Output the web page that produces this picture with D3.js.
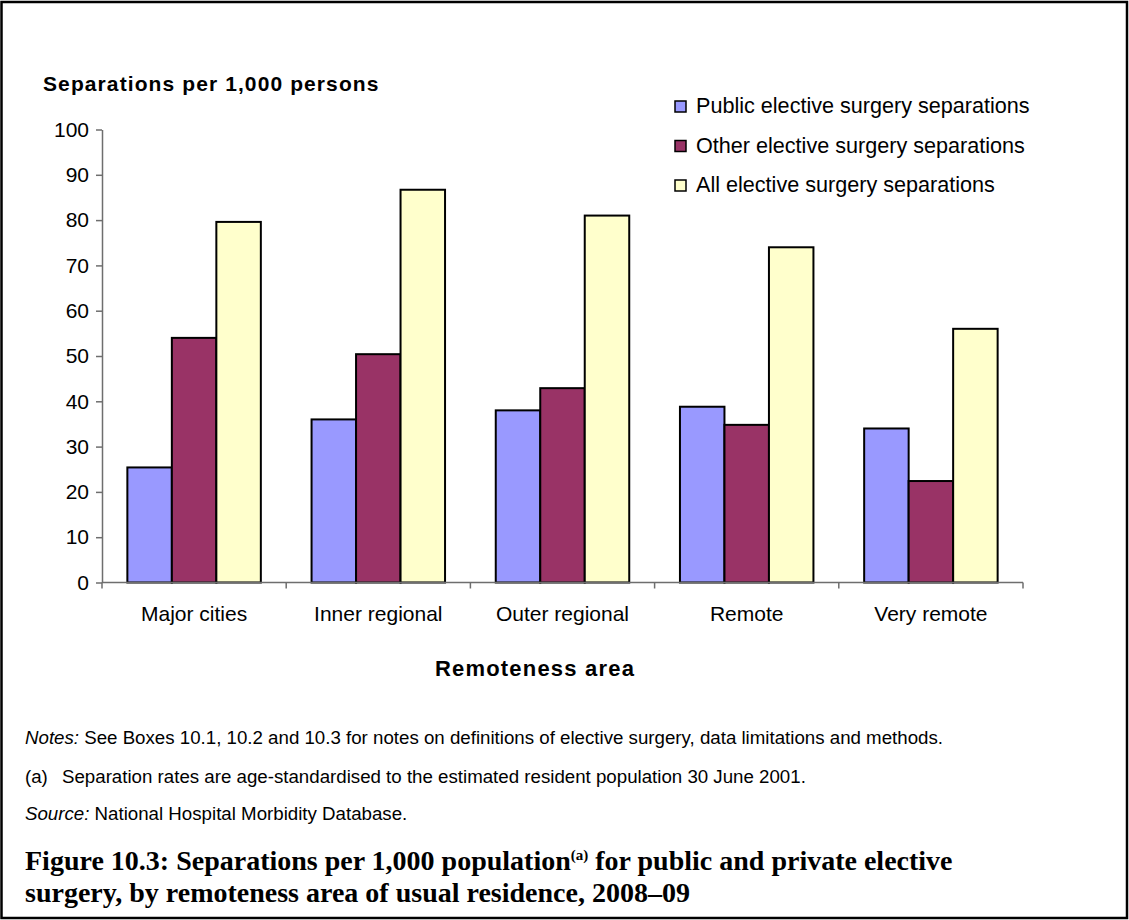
<!DOCTYPE html>
<html>
<head>
<meta charset="utf-8">
<script src="https://cdn.jsdelivr.net/npm/d3@7"></script>
<style>
  html, body { margin: 0; padding: 0; background: #fff; }
  svg { display: block; }
  .sans { font-family: "Liberation Sans", Arial, sans-serif; fill: #000; }
  .serif { font-family: "Liberation Serif", "Times New Roman", serif; fill: #000; }
</style>
</head>
<body>
<svg id="chart" width="1129" height="920"></svg>
<script>
// Remoteness areas along the x axis
const categories = ["Major cities", "Inner regional", "Outer regional", "Remote", "Very remote"];

// Separations per 1,000 persons, by series
const seriesNames = [
  "Public elective surgery separations",
  "Other elective surgery separations",
  "All elective surgery separations"
];
const publicValues = [25.4, 36.0, 38.0, 38.8, 34.0];
const otherValues  = [54.0, 50.4, 42.9, 34.8, 22.4];
const allValues    = [79.6, 86.7, 81.0, 74.0, 56.0];

const yTicks = [0, 10, 20, 30, 40, 50, 60, 70, 80, 90, 100];
const colors = ["#9999FF", "#993366", "#FFFFCC"];

const seriesValues = [publicValues, otherValues, allValues];
const rows = categories.map((c, i) => ({
  category: c,
  values: seriesValues.map((vals, s) => ({ series: seriesNames[s], value: vals[i], s }))
}));

const svg = d3.select("#chart");

// Page frame
svg.append("rect")
  .attr("x", 1.5).attr("y", 2).attr("width", 1125.5).attr("height", 916)
  .attr("fill", "none").attr("stroke", "#000").attr("stroke-width", 2.5);

const plot = { left: 102, right: 1023, top: 129.5, bottom: 582.5 };

const x0 = d3.scaleBand().domain(categories).range([plot.left, plot.right]).paddingInner(0).paddingOuter(0);
const x1 = d3.scaleBand().domain(seriesNames).range([0, x0.bandwidth()]).paddingInner(0).paddingOuter(0.57);
const y = d3.scaleLinear().domain([0, 100]).range([plot.bottom, plot.top]);

// Bars
const groups = svg.append("g").selectAll("g")
  .data(rows).join("g")
  .attr("transform", d => `translate(${x0(d.category)},0)`);

groups.selectAll("rect")
  .data(d => d.values).join("rect")
  .attr("x", d => x1(d.series))
  .attr("y", d => y(d.value))
  .attr("width", x1.bandwidth())
  .attr("height", d => y(0) - y(d.value))
  .attr("fill", d => colors[d.s])
  .attr("stroke", "#000")
  .attr("stroke-width", 2);

// Y axis
const yAxis = svg.append("g")
  .attr("transform", `translate(${plot.left},0)`)
  .call(d3.axisLeft(y).tickValues(yTicks).tickSize(6).tickPadding(7).tickSizeOuter(0));
yAxis.select(".domain").attr("stroke", "#6e6e6e").attr("stroke-width", 1.5);
yAxis.selectAll(".tick line").attr("stroke", "#6e6e6e").attr("stroke-width", 1.5);
yAxis.selectAll(".tick text")
  .attr("class", "sans").attr("font-size", "21px").attr("fill", "#000");

// X axis with group separators
const xAxis = svg.append("g")
  .attr("transform", `translate(0,${plot.bottom})`);
xAxis.append("line")
  .attr("x1", plot.left).attr("x2", plot.right)
  .attr("stroke", "#6e6e6e").attr("stroke-width", 1.5);
const sepPositions = categories.map(c => x0(c)).concat([plot.right]);
xAxis.selectAll("line.sep").data(sepPositions).join("line")
  .attr("class", "sep")
  .attr("x1", d => d).attr("x2", d => d)
  .attr("y1", 0).attr("y2", 6)
  .attr("stroke", "#6e6e6e").attr("stroke-width", 1.5);
xAxis.selectAll("text").data(categories).join("text")
  .attr("class", "sans")
  .attr("x", d => x0(d) + x0.bandwidth() / 2)
  .attr("y", 38)
  .attr("text-anchor", "middle")
  .attr("font-size", "21px")
  .text(d => d);

// Axis titles
svg.append("text").attr("class", "sans")
  .attr("x", 43).attr("y", 91)
  .attr("font-size", "21px").attr("font-weight", "bold")
  .attr("letter-spacing", "1.1px")
  .text("Separations per 1,000 persons");

svg.append("text").attr("class", "sans")
  .attr("x", 535).attr("y", 676)
  .attr("text-anchor", "middle")
  .attr("font-size", "22px").attr("font-weight", "bold")
  .attr("letter-spacing", "1.2px")
  .text("Remoteness area");

// Legend
const legend = svg.append("g").attr("transform", "translate(675,0)");
const legendBaselines = [113, 152.5, 192];
seriesNames.forEach((name, i) => {
  legend.append("rect")
    .attr("x", 0).attr("y", legendBaselines[i] - 12)
    .attr("width", 11).attr("height", 11)
    .attr("fill", colors[i]).attr("stroke", "#000").attr("stroke-width", 1.5);
  legend.append("text").attr("class", "sans")
    .attr("x", 21).attr("y", legendBaselines[i])
    .attr("font-size", "21.6px")
    .text(name);
});

// Notes and source
const notes = svg.append("g");
const n1 = notes.append("text").attr("class", "sans").attr("font-size", "18.7px").attr("x", 25).attr("y", 744);
n1.append("tspan").attr("font-style", "italic").text("Notes:");
n1.append("tspan").text(" See Boxes 10.1, 10.2 and 10.3 for notes on definitions of elective surgery, data limitations and methods.");

notes.append("text").attr("class", "sans").attr("font-size", "18.7px").attr("x", 25).attr("y", 783).text("(a)");
notes.append("text").attr("class", "sans").attr("font-size", "18.7px").attr("x", 62).attr("y", 783)
  .text("Separation rates are age-standardised to the estimated resident population 30 June 2001.");

const n3 = notes.append("text").attr("class", "sans").attr("font-size", "18.7px").attr("x", 25).attr("y", 820);
n3.append("tspan").attr("font-style", "italic").text("Source:");
n3.append("tspan").text(" National Hospital Morbidity Database.");

// Figure caption
const cap = svg.append("g");
const c1 = cap.append("text").attr("class", "serif")
  .attr("x", 25).attr("y", 870)
  .attr("font-size", "28px").attr("font-weight", "bold");
c1.append("tspan").text("Figure 10.3: Separations per 1,000 population");
c1.append("tspan").attr("font-size", "15px").attr("dy", -10).text("(a)");
c1.append("tspan").attr("dy", 10).text(" for public and private elective");
cap.append("text").attr("class", "serif")
  .attr("x", 25).attr("y", 902)
  .attr("font-size", "28px").attr("font-weight", "bold")
  .text("surgery, by remoteness area of usual residence, 2008–09");
</script>
</body>
</html>
